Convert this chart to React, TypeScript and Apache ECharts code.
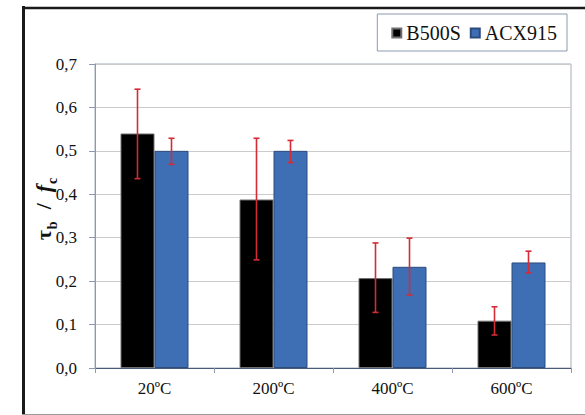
import React, { useEffect, useRef } from "react";
import * as echarts from "echarts";

const categories = ["20ºC", "200ºC", "400ºC", "600ºC"];
const seriesNames = ["B500S", "ACX915"];
const b500s = [0.54, 0.388, 0.207, 0.109];
const b500sLow = [0.436, 0.249, 0.128, 0.076];
const b500sHigh = [0.642, 0.529, 0.288, 0.141];
const acx915 = [0.5, 0.5, 0.233, 0.243];
const acx915Low = [0.469, 0.473, 0.168, 0.219];
const acx915High = [0.529, 0.524, 0.299, 0.269];
const yTicks = [0, 0.1, 0.2, 0.3, 0.4, 0.5, 0.6, 0.7];

const FONT = "'Liberation Serif', 'Times New Roman', serif";
const BAR_W = 34;

function errorSeries(name: string, low: number[], high: number[], offset: number) {
  return {
    type: "custom",
    name: name + "-err",
    silent: true,
    z: 5,
    data: categories.map((_, i) => [i, low[i], high[i]]),
    renderItem: (params: any, api: any) => {
      const idx = api.value(0);
      const pLow = api.coord([idx, api.value(1)]);
      const pHigh = api.coord([idx, api.value(2)]);
      const x = pLow[0] + offset;
      const cap = 3;
      const style = { stroke: "#d42b36", lineWidth: 1.6 };
      return {
        type: "group",
        children: [
          { type: "line", shape: { x1: x, y1: pLow[1], x2: x, y2: pHigh[1] }, style },
          { type: "line", shape: { x1: x - cap, y1: pLow[1], x2: x + cap, y2: pLow[1] }, style },
          { type: "line", shape: { x1: x - cap, y1: pHigh[1], x2: x + cap, y2: pHigh[1] }, style },
        ],
      };
    },
  };
}

export default function App() {
  const ref = useRef<HTMLDivElement>(null);
  useEffect(() => {
    if (!ref.current) return;
    const chart = echarts.init(ref.current, undefined, { renderer: "svg" });
    chart.setOption({
      animation: false,
      backgroundColor: "#ffffff",
      textStyle: { fontFamily: FONT },
      grid: {
        left: 95,
        right: 14,
        top: 64,
        bottom: 47,
        show: true,
        borderColor: "#a3abbb",
        borderWidth: 1,
      },
      legend: {
        data: seriesNames,
        right: 18,
        top: 14,
        icon: "rect",
        itemWidth: 9,
        itemHeight: 9,
        itemGap: 9,
        padding: [9, 10, 8, 14],
        borderColor: "#8d9bb3",
        borderWidth: 1,
        textStyle: { fontFamily: FONT, fontSize: 20, color: "#111" },
      },
      xAxis: {
        type: "category",
        data: categories,
        axisLine: { lineStyle: { color: "#4b5a78", width: 1 } },
        axisTick: { show: true, length: 5, lineStyle: { color: "#8d99ae" } },
        axisLabel: { fontFamily: FONT, fontSize: 17, color: "#111", margin: 12 },
        splitLine: { show: false },
      },
      yAxis: {
        type: "value",
        min: 0,
        max: 0.7,
        interval: 0.1,
        axisLine: { show: true, lineStyle: { color: "#8d99ae" } },
        axisTick: { show: true, length: 6, lineStyle: { color: "#8d99ae" } },
        axisLabel: {
          fontFamily: FONT,
          fontSize: 17,
          color: "#111",
          margin: 18,
          formatter: (v: number) => {
            const t = yTicks.find((x) => Math.abs(x - v) < 1e-6);
            return (t !== undefined ? t : v).toFixed(1).replace(".", ",");
          },
        },
        splitLine: { lineStyle: { color: "#cbcbcb", width: 1 } },
      },
      graphic: [
        {
          type: "line",
          shape: { x1: 23.5, y1: 6, x2: 23.5, y2: 415 },
          style: { stroke: "#1a1a1a", lineWidth: 3 },
        },
        {
          type: "line",
          shape: { x1: 22, y1: 8, x2: 585, y2: 8 },
          style: { stroke: "#1a1a1a", lineWidth: 2.5 },
        },
        {
          type: "line",
          shape: { x1: 22, y1: 414.5, x2: 585, y2: 414.5 },
          style: { stroke: "#9a9a9a", lineWidth: 1 },
        },
        {
          type: "text",
          x: 43,
          y: 209,
          rotation: Math.PI / 2,
          style: {
            text: "{t|τ}{s|b}{t|  /  }{f|f}{s2|c}",
            align: "center",
            verticalAlign: "middle",
            rich: {
              t: { fontFamily: FONT, fontSize: 22, fontWeight: "bold", fill: "#111", lineHeight: 24, verticalAlign: "middle" },
              f: { fontFamily: FONT, fontSize: 22, fontWeight: "bold", fontStyle: "italic", fill: "#111", lineHeight: 24, verticalAlign: "middle" },
              s: { fontFamily: FONT, fontSize: 14, fontWeight: "bold", fill: "#111", lineHeight: 24, verticalAlign: "bottom", padding: [0, 1, -4, 1] },
              s2: { fontFamily: FONT, fontSize: 14, fontWeight: "bold", fill: "#111", lineHeight: 24, verticalAlign: "bottom", padding: [0, 0, -4, 1] },
            },
          },
        },
      ],
      series: [
        {
          name: seriesNames[0],
          type: "bar",
          data: b500s,
          barWidth: BAR_W,
          barGap: "0%",
          itemStyle: { color: "#000000", borderColor: "#707070", borderWidth: 1 },
        },
        {
          name: seriesNames[1],
          type: "bar",
          data: acx915,
          barWidth: BAR_W,
          barGap: "0%",
          itemStyle: { color: "#3e6fb5", borderColor: "#2c4c7c", borderWidth: 1 },
        },
        errorSeries(seriesNames[0], b500sLow, b500sHigh, -BAR_W / 2),
        errorSeries(seriesNames[1], acx915Low, acx915High, BAR_W / 2),
      ],
    });
    return () => chart.dispose();
  }, []);
  return (
    <div
      ref={ref}
      style={{ position: "fixed", left: 0, top: 0, width: 585, height: 415 }}
    />
  );
}
